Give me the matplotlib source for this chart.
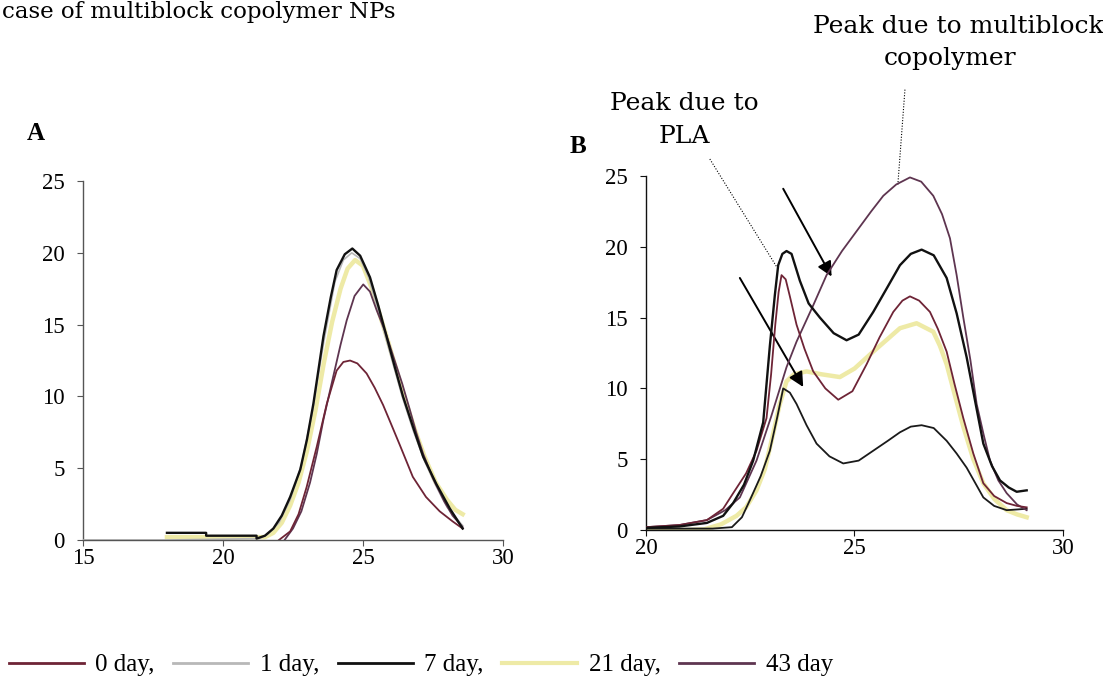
import numpy as np
import matplotlib
matplotlib.use("Agg")
import matplotlib.pyplot as plt

plt.rcParams['font.family'] = ['Liberation Serif', 'DejaVu Serif']

# ---- panel A (x, y per series) ----
a_day0_x = [22.0, 22.4, 22.7, 22.99, 23.35, 23.71, 24.06, 24.3, 24.54, 24.8,
            25.13, 25.42, 25.72, 26.0, 26.32, 26.78, 27.25, 27.74, 28.2, 28.56]
a_day0_y = [0.0, 0.6, 1.8, 3.7, 6.5, 9.5, 11.8, 12.4, 12.5, 12.3,
            11.6, 10.6, 9.4, 8.1, 6.6, 4.4, 3.0, 2.0, 1.3, 0.8]

a_day1_x = [15.0, 18.0, 21.3, 21.6, 22.0, 22.4, 22.8, 23.2, 23.6, 24.0,
            24.3, 24.6, 24.9, 25.2, 25.6, 26.0, 26.4, 26.8, 27.2, 27.6, 28.0, 28.56]
a_day1_y = [0.0, 0.0, 0.1, 0.4, 1.2, 2.8, 5.2, 9.0, 13.8, 18.0,
            19.5, 20.0, 19.6, 18.3, 15.6, 12.8, 10.0, 7.6, 5.5, 3.8, 2.3, 1.0]

a_day7_x = [18.0, 19.4, 19.4, 21.2, 21.2, 21.5, 21.8, 22.1, 22.4, 22.76,
            23.0, 23.23, 23.59, 23.85, 24.06, 24.35, 24.62, 24.9, 25.25, 25.55,
            25.84, 26.13, 26.43, 26.8, 27.15, 27.62, 28.1, 28.56]
a_day7_y = [0.5, 0.5, 0.3, 0.3, 0.1, 0.3, 0.8, 1.7, 3.0, 4.9,
            7.0, 9.5, 14.2, 16.9, 18.8, 19.9, 20.3, 19.8, 18.3, 16.3,
            14.2, 12.1, 10.0, 7.8, 5.8, 3.9, 2.2, 0.8]

a_day21_x = [18.0, 20.0, 21.5, 21.8, 22.1, 22.4, 22.7, 23.0, 23.3, 23.6,
             23.9, 24.2, 24.45, 24.72, 25.0, 25.3, 25.6, 25.9, 26.2, 26.5,
             26.85, 27.2, 27.6, 28.0, 28.3, 28.56]
a_day21_y = [0.2, 0.2, 0.2, 0.5, 1.2, 2.4, 4.0, 6.2, 9.0, 12.3,
             15.2, 17.5, 18.9, 19.5, 19.1, 17.6, 15.7, 13.8, 11.8, 9.8,
             7.7, 5.8, 4.0, 2.8, 2.1, 1.8]

a_day43_x = [22.2, 22.5, 22.8, 23.11, 23.35, 23.59, 23.94, 24.2, 24.42, 24.7,
             25.01, 25.25, 25.49, 25.8, 26.08, 26.4, 26.67, 26.9, 27.15, 27.5,
             27.9, 28.2, 28.56]
a_day43_y = [0.0, 0.8, 2.0, 4.0, 6.0, 8.4, 11.4, 13.6, 15.3, 17.0,
             17.8, 17.3, 16.0, 14.5, 12.8, 10.9, 9.1, 7.5, 6.0, 4.3,
             2.7, 1.7, 0.9]

# ---- panel B ----
b_day0_x = [20.0, 20.8, 21.46, 21.85, 22.09, 22.4, 22.65, 22.89, 23.0, 23.1,
            23.18, 23.25, 23.35, 23.45, 23.61, 23.8, 24.01, 24.3, 24.61, 24.95,
            25.29, 25.6, 25.93, 26.15, 26.33, 26.55, 26.81, 27.0, 27.21, 27.4,
            27.61, 27.85, 28.09, 28.35, 28.65, 28.9, 29.13]
b_day0_y = [0.2, 0.35, 0.7, 1.5, 2.6, 4.0, 5.6, 7.9, 11.0, 14.5,
            16.8, 18.0, 17.7, 16.5, 14.5, 12.8, 11.2, 10.0, 9.2, 9.8,
            11.7, 13.6, 15.4, 16.2, 16.5, 16.2, 15.4, 14.2, 12.6, 10.3,
            7.9, 5.4, 3.3, 2.4, 1.9, 1.7, 1.6]

b_day1_x = [20.0, 21.0, 21.6, 22.06, 22.3, 22.49, 22.75, 22.97, 23.15, 23.29,
            23.45, 23.61, 23.85, 24.09, 24.4, 24.73, 25.1, 25.45, 25.8, 26.09,
            26.35, 26.61, 26.9, 27.21, 27.45, 27.69, 27.9, 28.09, 28.35, 28.65,
            28.9, 29.13]
b_day1_y = [0.1, 0.1, 0.1, 0.2, 0.9, 2.1, 3.8, 5.6, 8.0, 10.0,
            9.7, 8.9, 7.4, 6.1, 5.2, 4.7, 4.9, 5.6, 6.3, 6.9,
            7.3, 7.4, 7.2, 6.3, 5.4, 4.4, 3.3, 2.3, 1.7, 1.4,
            1.45, 1.5]

b_day7_x = [20.0, 20.8, 21.46, 21.85, 22.09, 22.35, 22.57, 22.81, 22.97, 23.09,
            23.17, 23.27, 23.37, 23.49, 23.69, 23.9, 24.17, 24.5, 24.81, 25.1,
            25.45, 25.8, 26.09, 26.35, 26.61, 26.9, 27.21, 27.45, 27.69, 27.9,
            28.09, 28.3, 28.49, 28.7, 28.89, 29.13]
b_day7_y = [0.15, 0.25, 0.5, 1.0, 1.9, 3.2, 4.9, 7.6, 13.0, 16.6,
            18.7, 19.5, 19.7, 19.5, 17.6, 16.0, 15.0, 13.9, 13.4, 13.8,
            15.4, 17.2, 18.7, 19.5, 19.8, 19.4, 17.8, 15.3, 12.2, 9.0,
            6.1, 4.5, 3.5, 3.0, 2.7, 2.8]

b_day21_x = [20.0, 21.0, 21.4, 21.8, 22.17, 22.4, 22.65, 22.85, 23.05, 23.2,
             23.37, 23.55, 23.85, 24.2, 24.65, 25.0, 25.45, 25.8, 26.09, 26.49,
             26.89, 27.05, 27.21, 27.4, 27.61, 27.85, 28.09, 28.35, 28.65, 28.9, 29.13]
b_day21_y = [0.0, 0.0, 0.05, 0.4, 1.0, 1.6, 2.8, 4.3, 6.8, 8.8,
             10.5, 11.0, 11.2, 11.0, 10.8, 11.4, 12.6, 13.5, 14.25, 14.6,
             14.0, 13.0, 11.7, 9.6, 7.3, 5.0, 3.3, 2.2, 1.4, 1.1, 0.9]

b_day43_x = [20.0, 20.8, 21.46, 21.9, 22.25, 22.65, 23.0, 23.37, 23.61, 24.0,
             24.33, 24.7, 25.05, 25.4, 25.69, 26.0, 26.33, 26.6, 26.89, 27.1,
             27.29, 27.45, 27.61, 27.78, 27.93, 28.1, 28.25, 28.45, 28.65, 28.9, 29.13]
b_day43_y = [0.2, 0.35, 0.7, 1.4, 2.3, 4.9, 8.0, 11.5, 13.3, 15.8,
             18.0, 19.7, 21.1, 22.5, 23.6, 24.4, 24.9, 24.6, 23.6, 22.3,
             20.6, 18.0, 15.0, 12.0, 8.9, 6.7, 4.9, 3.5, 2.6, 1.8, 1.4]

labels = ["0 day,", "1 day,", "7 day,", "21 day,", "43 day"]
colors = ["#6e2436", "#b8b8b8", "#111111", "#eeeaa6", "#5e3550"]
widths = [1.3, 1.2, 1.7, 3.2, 1.3]
yticks = [0, 5, 10, 15, 20, 25]

wide_serif = ['DejaVu Serif']

fig = plt.figure(figsize=(11.03, 6.91), dpi=100)
axA = fig.add_axes([0.0752, 0.2185, 0.3808, 0.5195])
axB = fig.add_axes([0.5857, 0.2330, 0.3780, 0.5123])

seriesA = [(a_day0_x, a_day0_y), (a_day1_x, a_day1_y), (a_day7_x, a_day7_y),
           (a_day21_x, a_day21_y), (a_day43_x, a_day43_y)]
seriesB = [(b_day0_x, b_day0_y), (b_day1_x, b_day1_y), (b_day7_x, b_day7_y),
           (b_day21_x, b_day21_y), (b_day43_x, b_day43_y)]
order = [3, 1, 4, 0, 2]  # yellow underneath, black on top

for i in order:
    axA.plot(*seriesA[i], color=colors[i], lw=widths[i], zorder=2 + order.index(i))
colorsB = list(colors)
colorsB[1] = "#1a1a1a"
for i in order:
    axB.plot(*seriesB[i], color=colorsB[i], lw=widths[i] if i != 1 else 1.3,
             zorder=2 + order.index(i))

for ax, xl, xt, sc in [(axA, (15, 30), [15, 20, 25, 30], "#555555"),
                       (axB, (20, 30), [20, 25, 30], "#111111")]:
    ax.set_xlim(*xl)
    ax.set_ylim(0, 25)
    ax.set_xticks(xt)
    ax.set_yticks(yticks)
    for s in ["top", "right"]:
        ax.spines[s].set_visible(False)
    for s in ["left", "bottom"]:
        ax.spines[s].set_color(sc)
        ax.spines[s].set_linewidth(1.0)
    ax.tick_params(axis="x", direction="out", length=4, width=0.8, pad=2,
                   labelsize=16.5, colors=sc, labelcolor="black")
    ax.tick_params(axis="y", direction="out", length=4, width=0.8, pad=9,
                   labelsize=16.5, colors=sc, labelcolor="black")
    ax.spines["bottom"].set_zorder(10)

# annotations in panel B
axB.plot([21.53, 23.13], [26.2, 18.6], ls=(0, (1, 1.5)), color="black", lw=0.8, clip_on=False)
axB.plot([26.21, 26.04], [31.1, 24.4], ls=(0, (1, 1.5)), color="black", lw=0.8, clip_on=False)
arrow = dict(arrowstyle="-|>", color="black", lw=1.4, mutation_scale=22, shrinkA=0, shrinkB=0)
axB.annotate("", xy=(24.45, 17.9), xytext=(23.29, 24.1), arrowprops=arrow, annotation_clip=False)
axB.annotate("", xy=(23.77, 10.1), xytext=(22.25, 17.8), arrowprops=arrow, annotation_clip=False)

fig.text(684 / 1103, 1 - 110 / 691, "Peak due to", ha="center", va="baseline",
         fontsize=18, family=wide_serif)
fig.text(684 / 1103, 1 - 143 / 691, "PLA", ha="center", va="baseline",
         fontsize=18, family=wide_serif)
fig.text(813 / 1103, 1 - 33 / 691, "Peak due to multiblock", ha="left", va="baseline",
         fontsize=18, family=wide_serif)
fig.text(950 / 1103, 1 - 65 / 691, "copolymer", ha="center", va="baseline",
         fontsize=18, family=wide_serif)

fig.text(2 / 1103, 1 - 18 / 691, "case of multiblock copolymer NPs", ha="left", va="baseline",
         fontsize=16.5, family=wide_serif)
fig.text(27 / 1103, 1 - 140 / 691, "A", ha="left", va="baseline", fontsize=18, fontweight="bold")
fig.text(570 / 1103, 1 - 153 / 691, "B", ha="left", va="baseline", fontsize=18, fontweight="bold")

handles = [plt.Line2D([], [], color=colors[i], lw=2.0 if i != 3 else 3.0) for i in range(5)]
fig.legend(handles, labels, loc="center left", bbox_to_anchor=(0.008, 1 - 665 / 691),
           ncol=5, frameon=False, fontsize=18, handlelength=3.0, handletextpad=0.45,
           columnspacing=0.75, borderpad=0, borderaxespad=0)

fig.savefig("out.png", dpi=100)
